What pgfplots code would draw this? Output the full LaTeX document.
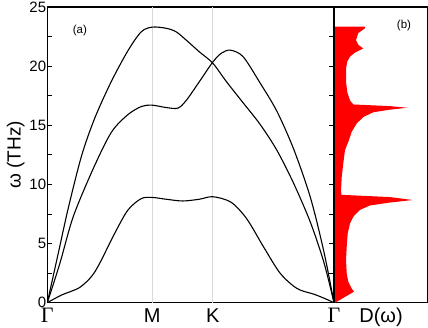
\documentclass[border=0pt]{standalone}
\usepackage{fontspec}
\setmainfont{Liberation Sans}
\newfontfamily\serifg{Liberation Serif}
\usepackage{pgfplots}
\pgfplotsset{compat=1.18}

\begin{document}
\begin{tikzpicture}[x=1pt,y=1pt]
\path[use as bounding box] (0,0) rectangle (428,327);

% (a) phonon dispersion
\begin{axis}[
  at={(47.3pt,24.3pt)}, anchor=south west,
  scale only axis, width=286.7pt, height=295.7pt,
  xmin=0, xmax=2.73205, ymin=0, ymax=25,
  axis line style={line width=1.1pt},
  tick align=inside,
  xtick={0,1,1.57735,2.73205},
  xticklabels={{\serifg\fontsize{22}{22}\selectfont Γ},M,K,{\serifg\fontsize{22}{22}\selectfont Γ}},
  xtick style={draw=none},
  extra x ticks={1,1.57735}, extra x tick labels={},
  extra x tick style={xmajorgrids=true, major grid style={gray!30, line width=1pt}, xtick style={draw=none}},
  ytick={0,5,...,25}, minor ytick={2.5,7.5,...,22.5},
  ytick pos=both,
  major tick length=5pt, minor tick length=5pt,
  ytick style={line width=0.9pt, black},
  /pgf/number format/assume math mode=true,
  yticklabel style={font=\fontsize{15}{15}\selectfont, inner sep=1pt},
  xticklabel style={font=\fontsize{20}{20}\selectfont, anchor=base, yshift=-19.5pt},
  ylabel={ω (THz)},
  ylabel style={font=\fontsize{19}{19}\selectfont, at={(axis description cs:-0.093,0.5)}, anchor=base},
]
% upper branch
\addplot[black, line width=1.1pt, smooth] coordinates {
  (0,0) (0.1,4.0) (0.2,8.0) (0.326,12.4) (0.452,15.6) (0.61,18.7) (0.768,21.3)
  (0.895,22.9) (1,23.3) (1.133,23.2) (1.228,22.9) (1.324,22.2) (1.45,21.2)
  (1.57735,20.25) (1.706,18.7) (1.866,16.9) (2.026,15.1) (2.187,12.9)
  (2.347,10.1) (2.507,6.8) (2.636,3.4) (2.73205,0)
};
% middle branch
\addplot[black, line width=1.1pt, smooth] coordinates {
  (0,0) (0.12,3.33) (0.247,7.27) (0.436,11.3) (0.61,14.4) (0.768,15.9)
  (0.9,16.6) (1,16.7) (1.133,16.5) (1.244,16.45) (1.324,17.1) (1.45,18.7)
  (1.57735,20.35) (1.66,21.1) (1.745,21.35) (1.866,20.8) (2.026,18.6)
  (2.187,16.2) (2.347,13.0) (2.507,8.9) (2.636,4.3) (2.73205,0)
};
% lowest branch
\addplot[black, line width=1.1pt, smooth] coordinates {
  (0,0) (0.136,0.65) (0.294,1.21) (0.389,1.9) (0.452,2.6) (0.515,3.6)
  (0.642,5.86) (0.768,7.83) (0.895,8.8) (1,8.9) (1.13,8.75) (1.29,8.6)
  (1.45,8.75) (1.57735,8.96) (1.75,8.5) (1.9,7.1) (2.06,4.73) (2.22,2.48)
  (2.38,1.2) (2.54,0.72) (2.64,0.37) (2.73205,0)
};
\node[font=\fontsize{11.5}{11.5}\selectfont] at (axis cs:0.31,23.0) {(a)};
\end{axis}

% (b) density of states
\begin{axis}[
  at={(334pt,24.3pt)}, anchor=south west,
  scale only axis, width=93.3pt, height=295.7pt,
  xmin=-1, xmax=92.3, ymin=0, ymax=25,
  axis line style={line width=1.1pt},
  ytick=\empty,
  xtick={46}, xticklabels={D(ω)},
  xtick style={draw=none},
  xticklabel style={font=\fontsize{20}{20}\selectfont, anchor=base, yshift=-19.5pt},
]
\addplot[fill=red, draw=none] coordinates {
  (0,0) (19,0.93) (16.7,1.2) (13.3,1.77) (11.7,2.48) (11,3.6) (11.7,4.73)
  (12.7,5.86) (15,6.7) (18.3,7.27) (25,7.85) (35,8.22) (55,8.47) (77.7,8.68)
  (55,8.93) (6.5,9.12) (6,9.5) (6.7,10.6) (8.3,11.8) (10,12.9) (13.3,13.6)
  (16.7,14.45) (21.7,15.15) (28.3,15.7) (38.3,16.1) (55,16.32) (72.3,16.48)
  (55,16.62) (18.3,16.76) (15,17.1) (12.3,17.8) (11,18.7) (11,19.8)
  (12.3,20.4) (15,20.8) (20,21.15) (28.3,21.5) (23.3,21.8) (21,22.2)
  (23.3,22.8) (30,23.2) (30,23.35) (0,23.35)
} -- cycle;
\node[font=\fontsize{11.5}{11.5}\selectfont] at (axis cs:69,23.4) {(b)};
\end{axis}
\end{tikzpicture}
\end{document}
